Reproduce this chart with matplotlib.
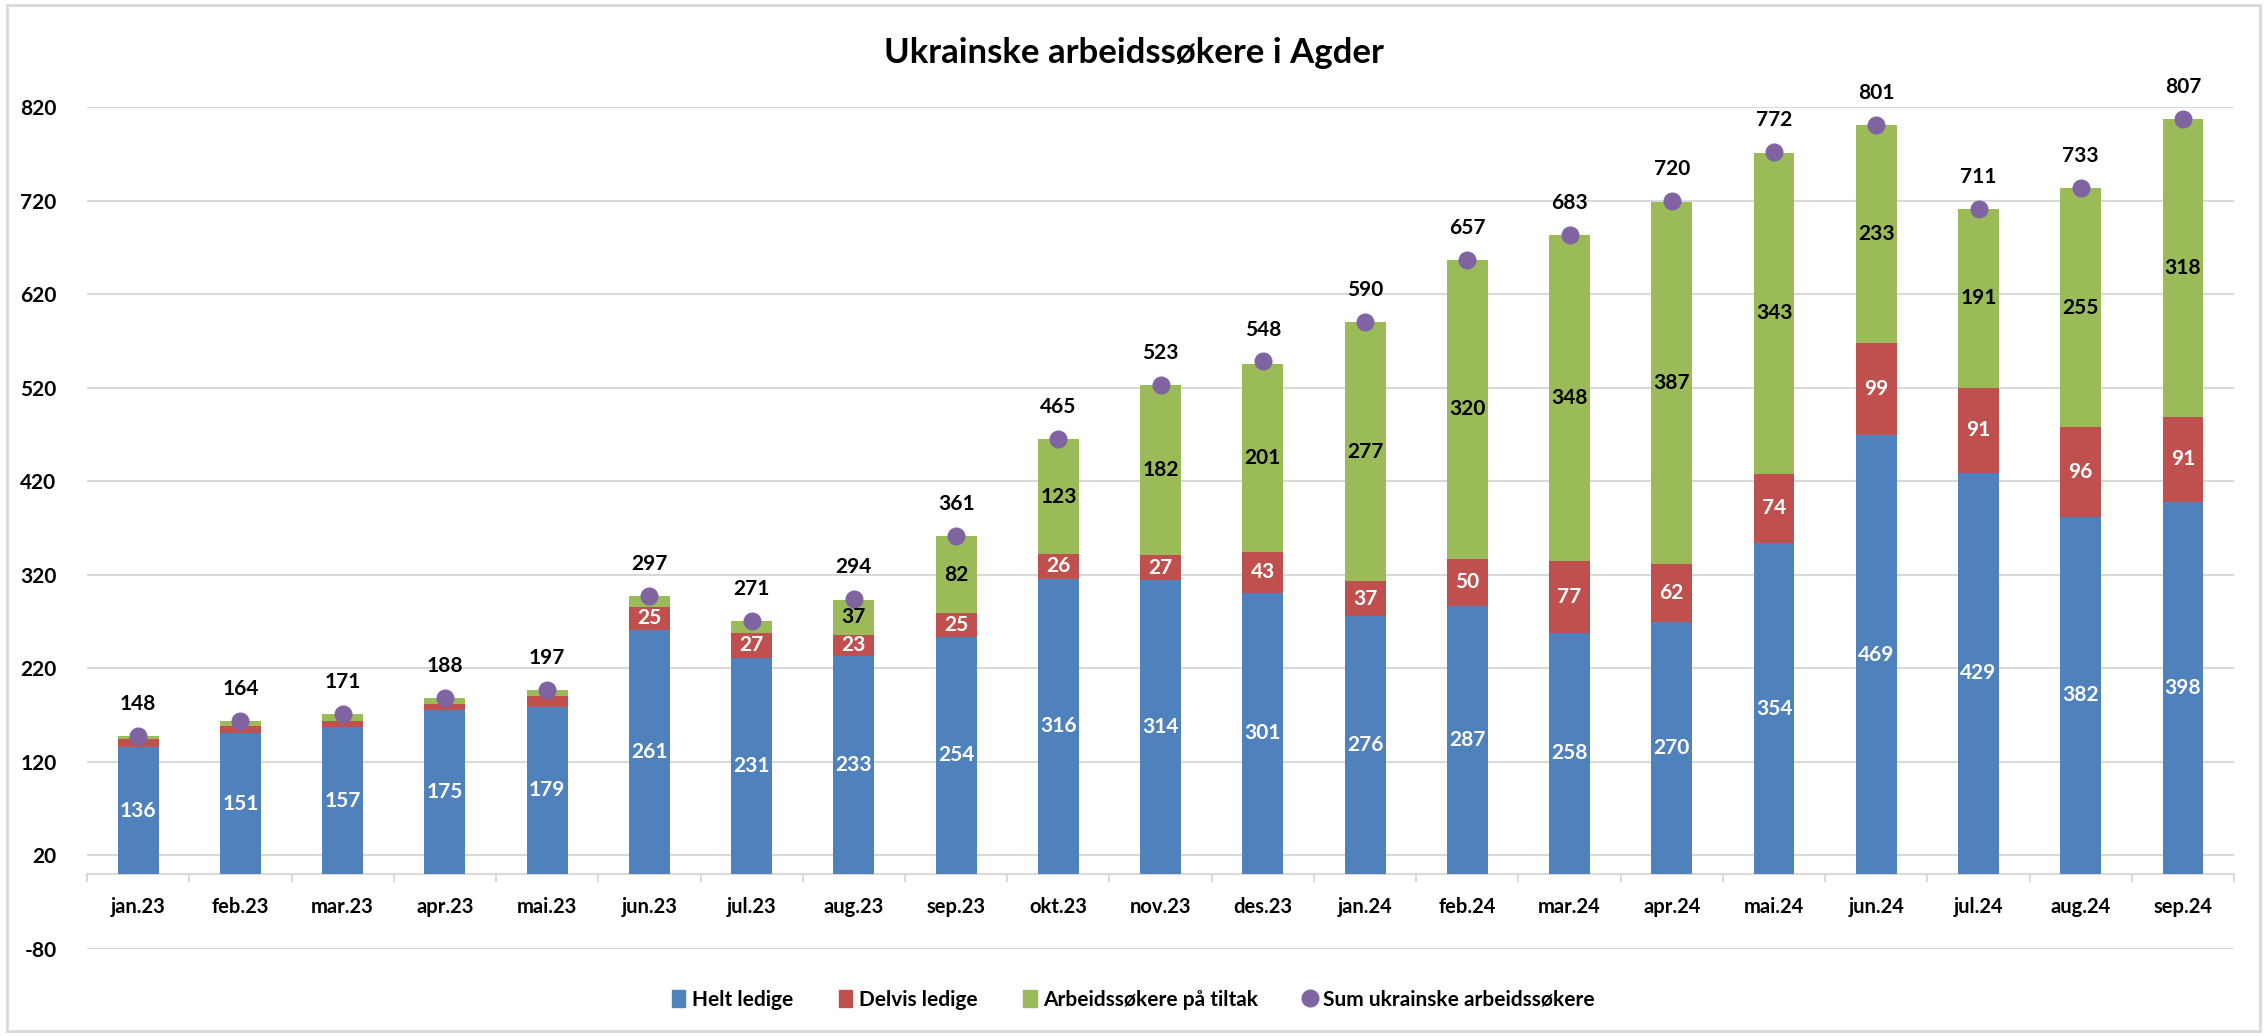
#!/usr/bin/env python

"""
Ukrainske arbeidssøkere i Agder - stacked bars with sum markers.
"""

import numpy as np
import matplotlib
matplotlib.use('Agg')
import matplotlib.pyplot as plt
from matplotlib.patches import Rectangle
from matplotlib.lines import Line2D

plt.rcParams['font.family'] = ['Lato', 'DejaVu Sans']
plt.rcParams['font.weight'] = 'bold'

months = ['jan.23', 'feb.23', 'mar.23', 'apr.23', 'mai.23', 'jun.23', 'jul.23',
          'aug.23', 'sep.23', 'okt.23', 'nov.23', 'des.23', 'jan.24', 'feb.24',
          'mar.24', 'apr.24', 'mai.24', 'jun.24', 'jul.24', 'aug.24', 'sep.24']
helt = [136, 151, 157, 175, 179, 261, 231, 233, 254, 316, 314, 301, 276, 287,
        258, 270, 354, 469, 429, 382, 398]
delvis = [8, 7, 7, 7, 11, 25, 27, 23, 25, 26, 27, 43, 37, 50, 77, 62, 74, 99, 91, 96, 91]
tiltak = [4, 6, 7, 6, 7, 11, 13, 37, 82, 123, 182, 201, 277, 320, 348, 387, 343,
          233, 191, 255, 318]
total = [148, 164, 171, 188, 197, 297, 271, 294, 361, 465, 523, 548, 590, 657,
         683, 720, 772, 801, 711, 733, 807]
yticks = [-80, 20, 120, 220, 320, 420, 520, 620, 720, 820]

C_BLUE = '#4F81BD'
C_RED = '#C0504D'
C_GREEN = '#9BBB59'
C_PURPLE = '#8064A2'
C_GRID = '#D9D9D9'
FS = 15

fig = plt.figure(figsize=(22.67, 10.36), dpi=100)
ax = fig.add_axes([0.0384, 0.084, 0.9471, 0.8127])

x = np.arange(len(months))
helt = np.array(helt)
delvis = np.array(delvis)
tiltak = np.array(tiltak)
w = 0.4

ax.bar(x, helt, w, color=C_BLUE, zorder=2)
ax.bar(x, delvis, w, bottom=helt, color=C_RED, zorder=2)
ax.bar(x, tiltak, w, bottom=helt + delvis, color=C_GREEN, zorder=2)
ax.plot(x, total, 'o', color=C_PURPLE, markersize=12, zorder=3)

# labels inside segments (small ones are left out, like the original)
for i in range(len(x)):
    ax.text(x[i], helt[i] / 2, str(helt[i]), ha='center', va='center',
            color='white', fontsize=FS, fontweight='bold', zorder=4)
    if delvis[i] >= 20:
        ax.text(x[i], helt[i] + delvis[i] / 2, str(delvis[i]), ha='center', va='center',
                color='white', fontsize=FS, fontweight='bold', zorder=4)
    if tiltak[i] >= 20:
        ax.text(x[i], helt[i] + delvis[i] + tiltak[i] / 2, str(tiltak[i]), ha='center',
                va='center', color='black', fontsize=FS, fontweight='bold', zorder=4)
    ax.annotate(str(total[i]), (x[i], total[i]), xytext=(0, 23), textcoords='offset points',
                ha='center', va='center', fontsize=FS, fontweight='bold', zorder=4)
    # category label under the zero line
    ax.text(x[i], -35, months[i], ha='center', va='center', fontsize=14.5,
            fontweight='bold', zorder=4)

ax.set_xlim(-0.5, len(x) - 0.5)
ax.set_ylim(-80, 820)
ax.set_yticks(yticks)
ax.set_yticklabels([str(v) for v in yticks], fontsize=FS, fontweight='bold')
ax.tick_params(axis='y', length=0, pad=22)
ax.grid(axis='y', color=C_GRID, linewidth=1.5, zorder=0)
for s in ax.spines.values():
    s.set_visible(False)
ax.set_xticks([])

# category axis at zero with tick marks between categories
ax.axhline(0, color=C_GRID, linewidth=1.5, zorder=1)
for b in np.arange(-0.5, len(x), 1.0):
    ax.plot([b, b], [0, -7], color=C_GRID, linewidth=1.5, zorder=1, clip_on=False)

fig.text(0.5, 0.949, 'Ukrainske arbeidssøkere i Agder', ha='center', va='center',
         fontsize=25, fontweight='bold')

handles = [Rectangle((0, 0), 1, 1, color=C_BLUE), Rectangle((0, 0), 1, 1, color=C_RED),
           Rectangle((0, 0), 1, 1, color=C_GREEN),
           Line2D([], [], marker='o', linestyle='', color=C_PURPLE, markersize=12)]
fig.legend(handles, ['Helt ledige', 'Delvis ledige', 'Arbeidssøkere på tiltak',
                     'Sum ukrainske arbeidssøkere'],
           loc='center', bbox_to_anchor=(0.5, 0.035), ncol=4, frameon=False,
           fontsize=FS, handlelength=0.65, handleheight=0.9, handletextpad=0.3,
           columnspacing=2.2)

# outer chart border
fig.patches.append(Rectangle((0.003, 0.005), 0.994, 0.99, transform=fig.transFigure,
                             fill=False, edgecolor=C_GRID, linewidth=2))

plt.savefig('out.png', dpi=100)
